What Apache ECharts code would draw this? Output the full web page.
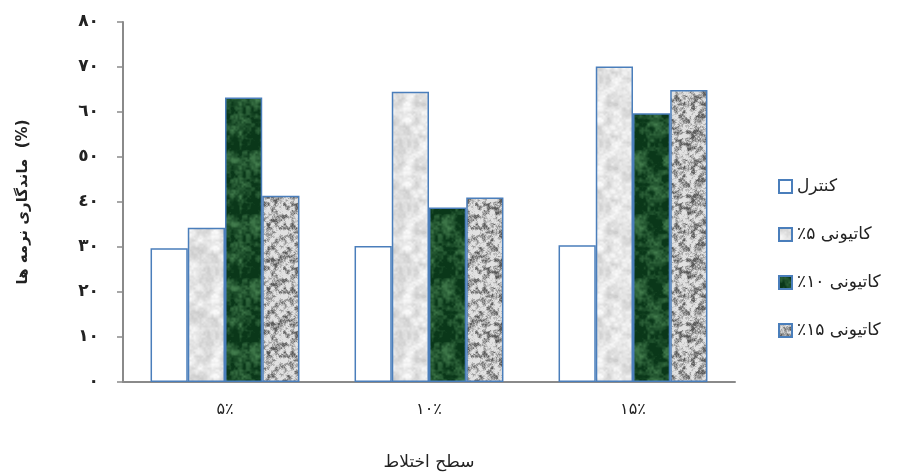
<!DOCTYPE html>
<html><head><meta charset="utf-8">
<script src="https://cdn.jsdelivr.net/npm/echarts@6/dist/echarts.min.js"></script>
<style>html,body{margin:0;padding:0;background:#fff}#c{width:907px;height:476px}</style>
</head><body><div id="c"></div>
<script>
// ---- data ----
const categories = ['۵٪', '۱۰٪', '۱۵٪'];
const seriesNames = ['کنترل', 'کاتیونی ۵٪\u200F', 'کاتیونی ۱۰٪\u200F', 'کاتیونی ۱۵٪\u200F'];
const control = [29.7, 30.2, 30.4];
const cat5 = [34.3, 64.5, 70.1];
const cat10 = [63.2, 38.8, 59.7];
const cat15 = [41.4, 41.0, 64.9];
const yTickLabels = ['٠', '١٠', '٢٠', '٣٠', '٤٠', '٥٠', '٦٠', '٧٠', '٨٠'];
const xName = 'سطح اختلاط';
const yName = 'ماندگاری نرمه ها  (%)';

// deterministic texture (style only)
function hash(x, y, s) {
  let h = (x * 374761393 + y * 668265263 + s * 2147483647) | 0;
  h = (h ^ (h >>> 13)) * 1274126177 | 0;
  h = h ^ (h >>> 16);
  return ((h >>> 0) % 10000) / 10000;
}
function vnoise(x, y, cell, s, size) {
  const n = size / cell;
  const gx = x / cell, gy = y / cell;
  const x0 = Math.floor(gx), y0 = Math.floor(gy);
  const fx = gx - x0, fy = gy - y0;
  const sx = fx * fx * (3 - 2 * fx), sy = fy * fy * (3 - 2 * fy);
  const v = (a, b) => hash(((a % n) + n) % n, ((b % n) + n) % n, s);
  const a = v(x0, y0), b = v(x0 + 1, y0), c = v(x0, y0 + 1), d = v(x0 + 1, y0 + 1);
  return (a * (1 - sx) + b * sx) * (1 - sy) + (c * (1 - sx) + d * sx) * sy;
}
function texture(c1, c2, seed, contrast, cells, bias) {
  const size = 64;
  const cv = document.createElement('canvas');
  cv.width = size; cv.height = size;
  const ctx = cv.getContext('2d');
  const img = ctx.createImageData(size, size);
  for (let y = 0; y < size; y++) for (let x = 0; x < size; x++) {
    let t = 0.5 * vnoise(x, y, cells[0], seed, size) + 0.3 * vnoise(x, y, cells[1], seed + 7, size) + 0.2 * vnoise(x, y, cells[2], seed + 13, size);
    t = Math.min(1, Math.max(0, (t - 0.5 + bias) * contrast + 0.5));
    const i = (y * size + x) * 4;
    img.data[i] = c1[0] + (c2[0] - c1[0]) * t;
    img.data[i + 1] = c1[1] + (c2[1] - c1[1]) * t;
    img.data[i + 2] = c1[2] + (c2[2] - c1[2]) * t;
    img.data[i + 3] = 255;
  }
  ctx.putImageData(img, 0, 0);
  return { image: cv, repeat: 'repeat' };
}
const fillLight = texture([250, 250, 250], [205, 205, 205], 3, 1.6, [8, 4, 2], 0);
const fillGreen = texture([10, 55, 25], [75, 135, 85], 11, 2.0, [16, 4, 2], -0.08);
const fillSpeck = texture([225, 225, 225], [90, 90, 90], 21, 2.6, [4, 2, 1], -0.08);

const border = '#4a7ebb';
const font = "'DejaVu Sans', sans-serif";
function barSeries(name, data, fill) {
  return {
    name, type: 'bar', data, barGap: '0%', barCategoryGap: '27%',
    itemStyle: { color: fill, borderColor: border, borderWidth: 1.5 }
  };
}

const chart = echarts.init(document.getElementById('c'), null, { renderer: 'canvas' });
chart.setOption({
  animation: false,
  backgroundColor: '#fff',
  grid: { left: 123, right: 172, top: 22, bottom: 94, containLabel: false },
  legend: {
    orient: 'vertical', left: 773, top: 173, itemGap: 31,
    itemWidth: 13, itemHeight: 13, icon: 'rect',
    textStyle: { fontFamily: font, fontSize: 17, color: '#222' },
    data: seriesNames
  },
  xAxis: {
    type: 'category', data: categories,
    name: xName, nameLocation: 'middle', nameGap: 72,
    nameTextStyle: { fontFamily: font, fontSize: 17, color: '#222' },
    axisLine: { lineStyle: { color: '#8a8a8a', width: 2 } },
    axisTick: { length: 5, lineStyle: { color: '#8a8a8a', width: 1.5 } },
    axisLabel: { fontFamily: font, fontSize: 16, color: '#222', margin: 20 }
  },
  yAxis: {
    type: 'value', min: 0, max: 80, interval: 10,
    name: yName, nameLocation: 'middle', nameGap: 92, nameRotate: 90,
    nameTextStyle: { fontFamily: font, fontSize: 15, fontWeight: 'bold', color: '#222' },
    axisLine: { show: true, lineStyle: { color: '#8a8a8a', width: 2 } },
    axisTick: { show: true, length: 6, lineStyle: { color: '#8a8a8a', width: 1.5 } },
    splitLine: { show: false },
    axisLabel: {
      fontFamily: font, fontSize: 17, fontWeight: 'bold', color: '#222', margin: 24,
      formatter: v => yTickLabels[Math.round(v / 10)]
    }
  },
  series: [
    barSeries(seriesNames[0], control, '#ffffff'),
    barSeries(seriesNames[1], cat5, fillLight),
    barSeries(seriesNames[2], cat10, fillGreen),
    barSeries(seriesNames[3], cat15, fillSpeck)
  ]
});
</script></body></html>
